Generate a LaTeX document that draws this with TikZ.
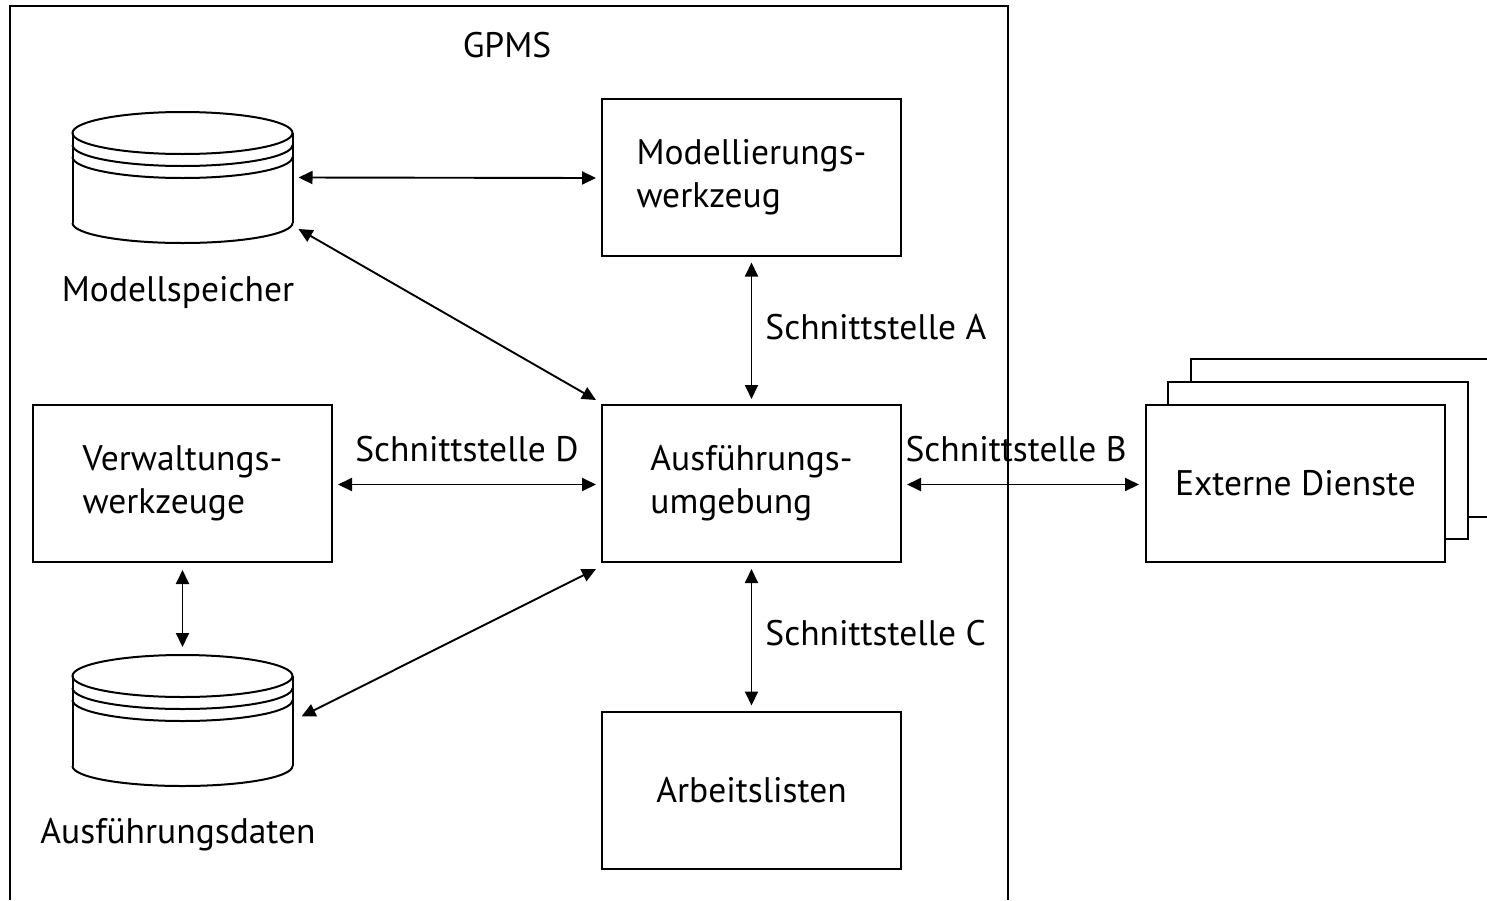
\documentclass[tikz,border=0pt]{standalone}
\usepackage{fontspec}
\setmainfont{PT Sans}
\usetikzlibrary{arrows.meta,calc}

\begin{document}
\begin{tikzpicture}[x=1pt,y=-1pt,
  line width=2pt,
  every node/.style={font=\fontsize{35.5}{43}\selectfont, inner sep=0pt},
  box/.style={draw, minimum width=299pt, minimum height=157pt, align=left},
  link/.style={{Triangle[length=14pt,width=13pt]}-{Triangle[length=14pt,width=13pt]}, line width=1.9pt},
  db/.pic={
    \draw (0,0) ellipse [x radius=110pt, y radius=21pt];
    \draw (-110,12) arc [start angle=180, end angle=360, x radius=110pt, y radius=21pt];
    \draw (-110,24) arc [start angle=180, end angle=360, x radius=110pt, y radius=21pt];
    \draw (-110,0) -- (-110,90);
    \draw (110,0) -- (110,90);
    \draw (-110,90) arc [start angle=180, end angle=360, x radius=110pt, y radius=20pt];
  }]
\useasboundingbox (0,0) rectangle (1487,900);

% system frame, open at the bottom
\draw (10,900) -- (10,6) -- (1008,6) -- (1008,900);
\node (gpms) at (507,45) {GPMS};

% data stores
\pic at (182.5,133) {db};
\node (ms) [minimum width=220pt, minimum height=131pt] at (182.5,177.5) {};
\node (mslbl) at (178,292) {Modellspeicher};
\pic at (182.5,676) {db};
\node (ad) [minimum width=220pt, minimum height=131pt] at (182.5,720.5) {};
\node (adlbl) at (178,835) {Ausführungsdaten};

% tools
\node (mw) [box] at (751.5,177) {Modellierungs-\\werkzeug};
\node (au) [box] at (751.5,483.5) {Ausführungs-\\umgebung};
\node (al) [box] at (751.5,790) {Arbeitslisten};
\node (vw) [box] at (182.5,483.5) {Verwaltungs-\\werkzeuge};

% external services, stacked
\draw (1191,382) -- (1191,359) -- (1487,359);
\draw (1468,517) -- (1487,517);
\draw (1168,405) -- (1168,382) -- (1468,382) -- (1468,539) -- (1445,539);
\node (ed) [box] at (1295.5,483.5) {Externe Dienste};

% connections
\draw[link] ($(ms.east)+(5,0)$) -- ($(mw.west)+(-5,1)$);
\draw[link] ($(ms.south east)+(5,-15)$) -- ($(au.north west)+(-5,-4)$);
\draw[link] ($(mw.south)+(0,6)$) -- node[pos=0.47, right=13pt] (sa) {Schnittstelle A} ($(au.north)+(0,-5)$);
\draw[link] ($(vw.east)+(5,1)$) -- node[above=22pt] (sd) {Schnittstelle D} ($(au.west)+(-5,1)$);
\draw[link] ($(au.east)+(5,1)$) -- node[pos=0.47, above=22pt] (sb) {Schnittstelle B} ($(ed.west)+(-6,1)$);
\draw[link] ($(au.south)+(0,6)$) -- node[pos=0.47, right=13pt] (sc) {Schnittstelle C} ($(al.north)+(0,-5)$);
\draw[link] ($(vw.south)+(0,7)$) -- ($(ad.north)+(0,-7)$);
\draw[link] ($(ad.east)+(8,-4)$) -- ($(au.south west)+(-5,6)$);
\end{tikzpicture}
\end{document}
